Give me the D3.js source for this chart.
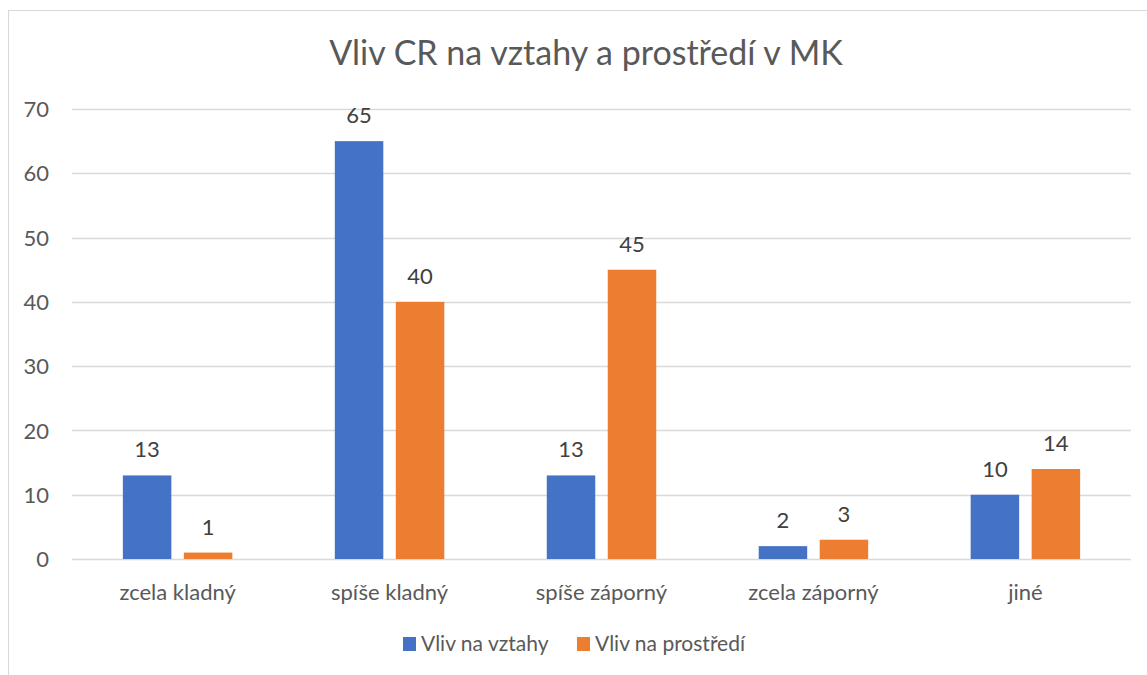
<!DOCTYPE html>
<html>
<head>
<meta charset="utf-8">
<script src="https://cdn.jsdelivr.net/npm/d3@7"></script>
<style>
  html, body { margin: 0; padding: 0; background: #fff; }
  svg { display: block; font-family: "Lato", "Open Sans", sans-serif; }
</style>
</head>
<body>
<svg id="chart" width="1147" height="675"></svg>
<script>
const title = "Vliv CR na vztahy a prostředí v MK";
const categories = ["zcela kladný", "spíše kladný", "spíše záporný", "zcela záporný", "jiné"];
const seriesNames = ["Vliv na vztahy", "Vliv na prostředí"];
const vztahy = [13, 65, 13, 2, 10];
const prostredi = [1, 40, 45, 3, 14];
const yTicks = [0, 10, 20, 30, 40, 50, 60, 70];
const colors = ["#4472C4", "#ED7D31"];

const seriesValues = [vztahy, prostredi];
const data = categories.map((c, i) => ({
  cat: c,
  values: seriesNames.map((s, j) => ({ series: s, idx: j, value: seriesValues[j][i] }))
}));

const svg = d3.select("#chart");
const textColor = "#595959";

// chart border
svg.append("rect")
  .attr("x", 8.5).attr("y", 10.5)
  .attr("width", 1160).attr("height", 700)
  .attr("fill", "none").attr("stroke", "#d9d9d9").attr("stroke-width", 1);

const plotLeft = 72, plotRight = 1131, plotTop = 109, plotBottom = 559;

const x0 = d3.scaleBand().domain(categories).range([plotLeft, plotRight])
  .paddingInner(0.4835).paddingOuter(0.24);
const x1 = d3.scaleBand().domain([0, 1]).range([0, x0.bandwidth()])
  .paddingInner(0.205).paddingOuter(0);
const y = d3.scaleLinear().domain([0, 70]).range([plotBottom, plotTop]);

// gridlines
svg.append("g").selectAll("line").data(yTicks).join("line")
  .attr("x1", plotLeft).attr("x2", plotRight)
  .attr("y1", d => Math.round(y(d)) + 0.5).attr("y2", d => Math.round(y(d)) + 0.5)
  .attr("stroke", "#d9d9d9").attr("stroke-width", 1.3);

// y axis labels
const yAxis = d3.axisLeft(y).tickValues(yTicks).tickSize(0).tickPadding(0);
const gy = svg.append("g").attr("transform", `translate(49,0)`).call(yAxis);
gy.select(".domain").remove();
gy.selectAll("text").attr("fill", textColor).style("font-size", "22px")
  .style("font-family", "Lato, 'Open Sans', sans-serif").attr("dy", "0.35em");

// x axis labels
const xAxis = d3.axisBottom(x0).tickSize(0).tickPadding(0);
const gx = svg.append("g").attr("transform", `translate(0,${plotBottom})`).call(xAxis);
gx.select(".domain").remove();
gx.selectAll("text").attr("fill", textColor).style("font-size", "22px")
  .style("font-family", "Lato, 'Open Sans', sans-serif").attr("y", 41).attr("dy", 0);

// bars
const groups = svg.append("g").selectAll("g").data(data).join("g")
  .attr("transform", d => `translate(${x0(d.cat)},0)`);
groups.selectAll("rect").data(d => d.values).join("rect")
  .attr("x", d => x1(d.idx))
  .attr("width", x1.bandwidth())
  .attr("y", d => y(d.value))
  .attr("height", d => y(0) - y(d.value))
  .attr("fill", d => colors[d.idx]);

// data labels
groups.selectAll("text").data(d => d.values).join("text")
  .attr("x", d => x1(d.idx) + x1.bandwidth() / 2)
  .attr("y", d => y(d.value) - 18)
  .attr("text-anchor", "middle")
  .attr("fill", "#404040")
  .style("font-size", "22px")
  .text(d => d.value);

// title
svg.append("text")
  .attr("x", 586).attr("y", 65)
  .attr("text-anchor", "middle")
  .attr("fill", textColor)
  .style("font-size", "34px")
  .text(title);

// legend
const legendItems = [{ x: 403, i: 0 }, { x: 577, i: 1 }];
const lg = svg.append("g").selectAll("g").data(legendItems).join("g")
  .attr("transform", d => `translate(${d.x},0)`);
lg.append("rect").attr("x", 0).attr("y", 637).attr("width", 13).attr("height", 14)
  .attr("fill", d => colors[d.i]);
lg.append("text").attr("x", 18).attr("y", 651)
  .attr("fill", textColor).style("font-size", "21px")
  .text(d => seriesNames[d.i]);
</script>
</body>
</html>
